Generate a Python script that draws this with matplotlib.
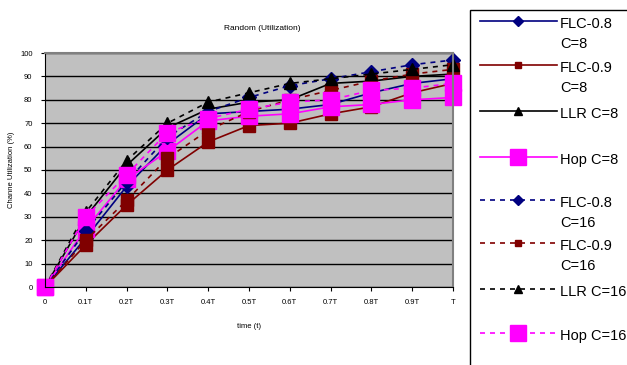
import matplotlib.pyplot as plt
from matplotlib.lines import Line2D
from matplotlib.patches import Rectangle

plt.rcParams['font.family'] = ['Liberation Sans', 'DejaVu Sans']

x_labels = ['0', '0.1T', '0.2T', '0.3T', '0.4T', '0.5T', '0.6T', '0.7T', '0.8T', '0.9T', 'T']

flc08_c8 = [0, 21, 43, 61, 74, 75, 76, 78, 83, 87, 89]
flc09_c8 = [0, 18, 35, 50, 62, 69, 70, 74, 77, 83, 87]
llr_c8 = [0, 30, 52, 68, 76, 79, 80, 87, 88, 90, 91]
hop_c8 = [0, 25, 46, 58, 71, 73, 74, 77, 78, 80, 81]
flc08_c16 = [0, 24, 45, 64, 75, 81, 86, 89, 92, 95, 97]
flc09_c16 = [0, 20, 37, 55, 67, 75, 80, 84, 88, 91, 93]
llr_c16 = [0, 32, 54, 70, 79, 83, 87, 89, 91, 93, 95]
hop_c16 = [0, 30, 48, 66, 72, 76, 79, 80, 84, 85, 87]

names = ['FLC-0.8\nC=8', 'FLC-0.9\nC=8', 'LLR C=8', 'Hop C=8',
         'FLC-0.8\nC=16', 'FLC-0.9\nC=16', 'LLR C=16', 'Hop C=16']
series = [flc08_c8, flc09_c8, llr_c8, hop_c8, flc08_c16, flc09_c16, llr_c16, hop_c16]

colors = ['#000080', '#800000', '#000000', '#ff00ff'] * 2
markers = ['D', 's', '^', 's'] * 2
msizes = [7, 8, 9, 11.5] * 2
leg_msizes = [5, 5, 6, 11] * 2
styles = ['-'] * 4 + [(0, (3, 3))] * 4

W, H = 627, 365
fig = plt.figure(figsize=(6.27, 3.65), dpi=100)
ax = fig.add_axes([45 / W, 1 - 287 / H, 408 / W, 234 / H])
ax.set_facecolor('#c0c0c0')

xs = range(len(x_labels))
for vals, c, m, ms, ls in zip(series, colors, markers, msizes, styles):
    ax.plot(xs, vals, color=c, marker=m, markersize=ms, linestyle=ls,
            linewidth=1.2, markeredgecolor=c, markerfacecolor=c, clip_on=False)

ax.set_xlim(0, 10)
ax.set_ylim(0, 100)
ax.set_xticks(list(xs))
ax.set_xticklabels(x_labels)
ax.set_yticks(range(0, 101, 10))
ax.yaxis.grid(True, color='black', linewidth=1)
ax.set_axisbelow(True)
ax.tick_params(labelsize=5.5, length=3, pad=6)
for s in ['top', 'right']:
    ax.spines[s].set_color('#808080')
    ax.spines[s].set_linewidth(1.5)

fig.text(262 / W, 1 - 28 / H, 'Random (Utilization)', fontsize=6, ha='center', va='center')
fig.text(249 / W, 1 - 327 / H, 'time (t)', fontsize=5.5, ha='center', va='center')
fig.text(12 / W, 1 - 170 / H, 'Channe Utilization (%)', fontsize=5.5, ha='center',
         va='center', rotation=90)

# legend box drawn in figure pixels
fig.add_artist(Rectangle((470 / W, -0.05), 0.3, 1 - 10 / H + 0.05,
                         transform=fig.transFigure, facecolor='white',
                         edgecolor='black', linewidth=1))
rows = [21, 65, 111, 157, 200, 243, 289, 333]
for y, name, c, m, ms, ls in zip(rows, names, colors, markers, leg_msizes, styles):
    fy = 1 - y / H
    fig.add_artist(Line2D([480 / W, 557 / W], [fy, fy], transform=fig.transFigure,
                          color=c, linestyle=ls, linewidth=1.2))
    fig.add_artist(Line2D([518 / W], [fy], transform=fig.transFigure, color=c,
                          marker=m, markersize=ms, markerfacecolor=c, markeredgecolor=c))
    for i, part in enumerate(name.split('\n')):
        fig.text(560 / W, 1 - (y + 7 + 20 * i) / H, part, fontsize=10.5,
                 va='baseline', ha='left')

fig.savefig('out.png', dpi=100)
